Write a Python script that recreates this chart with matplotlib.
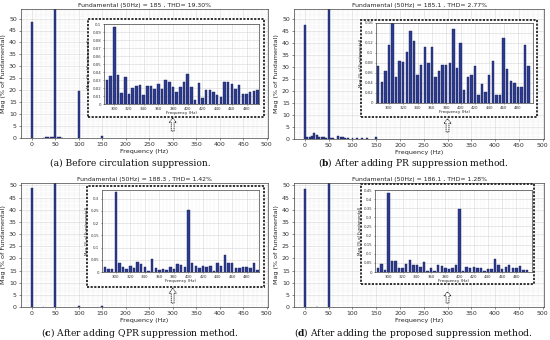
import matplotlib
matplotlib.use("Agg")
import matplotlib.pyplot as plt
from matplotlib.patches import Rectangle, FancyArrow
from matplotlib.ticker import MultipleLocator, FormatStrFormatter
import numpy as np

plt.rcParams['mathtext.fontset'] = 'dejavuserif'

W, H = 550, 340

# ---- main spectra (Hz, % of fundamental) ----
freq_a = [0, 25, 30, 35, 40, 45, 50, 55, 60, 65, 100, 150]
mag_a = [48.7, 0.2, 0.3, 0.3, 0.4, 0.4, 100, 0.5, 0.3, 0.2, 19.5, 1.0]

freq_b = [0, 5, 10, 15, 20, 25, 30, 35, 40, 45, 50, 55, 60, 70, 75, 80, 85, 90, 100, 110, 120, 130, 150]
mag_b = [47.2, 0.8, 1.0, 1.3, 2.7, 1.8, 1.0, 0.8, 0.7, 0.6, 100, 0.6, 0.3, 1.2, 1.0, 0.8,
         0.6, 0.5, 0.4, 0.3, 0.5, 0.3, 0.8]

freq_c = [0, 25, 50, 100, 150]
mag_c = [48.9, 0.2, 100, 0.6, 0.5]

freq_d = [0, 25, 50]
mag_d = [48.6, 0.1, 100]

# ---- zoomed harmonics (Hz, % of fundamental) ----
zf_a = list(range(290, 500, 5))
zv_a = [0.030, 0.035, 0.096, 0.036, 0.0135, 0.034, 0.0127, 0.020, 0.023, 0.024,
        0.011, 0.022, 0.022, 0.0186, 0.0245, 0.0186, 0.0295, 0.0274, 0.021, 0.0148,
        0.0207, 0.027, 0.037, 0.021, 0.005, 0.026, 0.007, 0.017, 0.0177, 0.0156,
        0.0118, 0.0089, 0.027, 0.027, 0.025, 0.019, 0.024, 0.013, 0.013, 0.0148,
        0.016, 0.017]

zf_b = list(range(285, 500, 5))
zv_b = [0.075, 0.043, 0.064, 0.117, 0.160, 0.052, 0.085, 0.082, 0.102, 0.144,
        0.125, 0.057, 0.077, 0.112, 0.080, 0.112, 0.053, 0.064, 0.077, 0.077,
        0.080, 0.149, 0.070, 0.120, 0.027, 0.052, 0.056, 0.074, 0.016, 0.039,
        0.023, 0.056, 0.084, 0.017, 0.017, 0.130, 0.068, 0.045, 0.040, 0.032,
        0.032, 0.116, 0.074]

zf_c = list(range(285, 500, 5))
zv_c = [0.019, 0.014, 0.011, 0.325, 0.035, 0.020, 0.011, 0.024, 0.016, 0.040,
        0.033, 0.022, 0.004, 0.053, 0.018, 0.008, 0.012, 0.010, 0.022, 0.014,
        0.033, 0.027, 0.022, 0.253, 0.035, 0.025, 0.015, 0.025, 0.020, 0.025,
        0.005, 0.035, 0.025, 0.070, 0.035, 0.038, 0.015, 0.015, 0.020, 0.022,
        0.015, 0.035, 0.010]

zf_d = list(range(285, 500, 5))
zv_d = [0.020, 0.042, 0.009, 0.436, 0.058, 0.058, 0.022, 0.022, 0.042, 0.064,
        0.037, 0.037, 0.026, 0.053, 0.008, 0.020, 0.005, 0.040, 0.031, 0.020,
        0.017, 0.022, 0.040, 0.344, 0.007, 0.027, 0.022, 0.027, 0.024, 0.020,
        0.007, 0.017, 0.017, 0.071, 0.040, 0.017, 0.027, 0.038, 0.020, 0.020,
        0.033, 0.011, 0.013]

titles = ["Fundamental (50Hz) = 185 , THD= 19.30%",
          "Fundamental (50Hz) = 185.1 , THD= 2.77%",
          "Fundamental (50Hz) = 188.3 , THD= 1.42%",
          "Fundamental (50Hz) = 186.1 , THD= 1.28%"]
captions = ["(a) Before circulation suppression.",
            r"($\mathbf{b}$) After adding PR suppression method.",
            r"($\mathbf{c}$) After adding QPR suppression method.",
            r"($\mathbf{d}$) After adding the proposed suppression method."]

BAR = "#2c3b8c"
EDGE = "#1b2160"


def rect(x0, y0, x1, y1):
    return [x0 / W, 1 - y1 / H, (x1 - x0) / W, (y1 - y0) / H]


def style(ax, fs):
    ax.tick_params(labelsize=fs, length=1.5, width=0.4, pad=1.5, colors="#333333")
    ax.tick_params(which="minor", length=0)
    for s in ax.spines.values():
        s.set_linewidth(0.5)
        s.set_color("#444444")
    ax.grid(True, which="major", color="#d6d6d6", lw=0.4)
    ax.grid(True, which="minor", color="#ececec", lw=0.3)
    ax.set_axisbelow(True)


fig = plt.figure(figsize=(5.5, 3.4), dpi=100)

panels = [
    dict(main=(21, 9, 268, 138), ylim=54, f=freq_a, m=mag_a,
         box=(88, 19, 264, 117), ins=(104, 24, 259, 104), zx=(286, 497), zy=0.1,
         zt=0.01, zf=zf_a, zv=zv_a, arr=(2.9, 5.5), cap=(130, 163)),
    dict(main=(294, 9, 544, 139), ylim=54, f=freq_b, m=mag_b,
         box=(361, 20, 537, 117), ins=(376, 23, 533, 103), zx=(282, 501), zy=0.16,
         zt=0.02, zf=zf_b, zv=zv_b, arr=(2.9, 5.5), cap=(413, 163)),
    dict(main=(21, 183, 268, 307), ylim=51, f=freq_c, m=mag_c,
         box=(87, 186, 264, 287), ins=(102, 190, 259, 272), zx=(281, 497), zy=0.335,
         zt=0.05, zf=zf_c, zv=zv_c, arr=(1.6, 6.2), cap=(140, 333)),
    dict(main=(294, 183, 544, 307), ylim=51, f=freq_d, m=mag_d,
         box=(361, 184, 534, 284), ins=(375, 190, 532, 272), zx=(281, 502), zy=0.45,
         zt=0.05, zf=zf_d, zv=zv_d, arr=(1.6, 4.6), cap=(413, 333)),
]

for i, p in enumerate(panels):
    ax = fig.add_axes(rect(*p["main"]))
    ax.bar(p["f"], p["m"], width=4, color=BAR, edgecolor=EDGE, lw=0.3)
    ax.set_xlim(-23, 503)
    ax.set_ylim(0, p["ylim"])
    ax.xaxis.set_major_locator(MultipleLocator(50))
    ax.xaxis.set_minor_locator(MultipleLocator(10))
    ax.yaxis.set_major_locator(MultipleLocator(5))
    ax.yaxis.set_minor_locator(MultipleLocator(1))
    style(ax, 4.5)
    ax.set_title(titles[i], fontsize=4.4, pad=1.5, color="#222222")
    ax.set_xlabel("Frequency (Hz)", fontsize=4.6, labelpad=1, color="#222222")
    ax.set_ylabel("Mag (% of Fundamental)", fontsize=4.6, labelpad=2, color="#222222")

    # hollow arrow pointing at the zoomed region
    y0, dy = p["arr"]
    ax.add_patch(FancyArrow(300, y0, 0, dy, width=6, head_width=15, head_length=dy * 0.35,
                            length_includes_head=True, facecolor="white", edgecolor="#222222",
                            lw=0.6, ls=(0, (1.5, 0.8)), zorder=5))

    # dashed frame around the inset
    x0, yy0, x1, yy1 = p["box"]
    fig.patches.append(Rectangle((x0 / W, 1 - yy1 / H), (x1 - x0) / W, (yy1 - yy0) / H,
                                 transform=fig.transFigure, fill=True, facecolor="white",
                                 edgecolor="#222222", lw=1.3, ls=(0, (1.2, 0.8)), zorder=2))

    axi = fig.add_axes(rect(*p["ins"]))
    axi.set_zorder(3)
    axi.bar(p["zf"], p["zv"], width=3.4, color=BAR, edgecolor=EDGE, lw=0.3)
    axi.set_xlim(*p["zx"])
    axi.set_ylim(0, p["zy"])
    axi.set_xticks(np.arange(300, 481, 20))
    axi.xaxis.set_minor_locator(MultipleLocator(5))
    axi.yaxis.set_major_locator(MultipleLocator(p["zt"]))
    axi.yaxis.set_major_formatter(FormatStrFormatter("%g"))
    style(axi, 2.8)
    axi.tick_params(length=1, pad=1)
    axi.set_xlabel("Frequency (Hz)", fontsize=3, labelpad=0.5, color="#222222")
    axi.set_ylabel("Mag (% of Fundamental)", fontsize=2.8, labelpad=1, color="#222222")

    cx, cy = p["cap"]
    fig.text(cx / W, 1 - cy / H, captions[i], fontsize=6.6, family="DejaVu Serif",
             ha="center", va="center", color="#111111")

fig.savefig("out.png", dpi=100, facecolor="white")
